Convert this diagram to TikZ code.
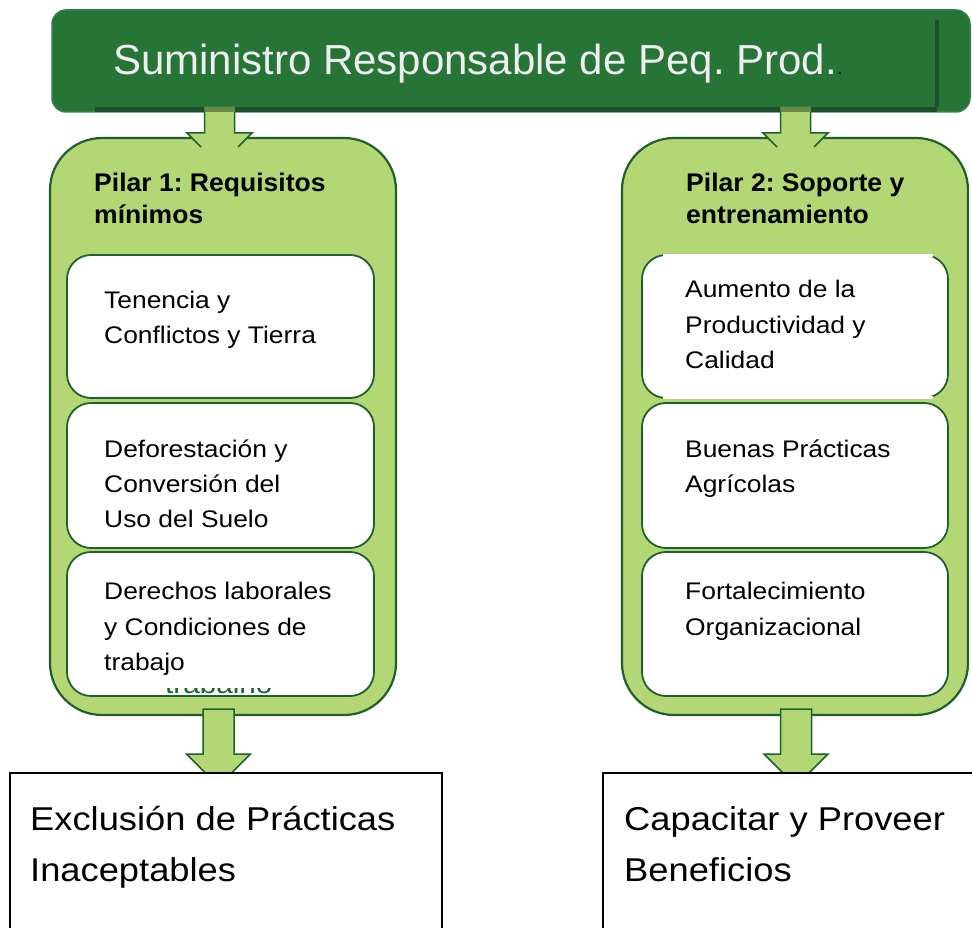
\documentclass[tikz,border=0pt]{standalone}
\usepackage{fontspec}
\setmainfont{Liberation Sans}
\newfontfamily\widefont{Liberation Sans}[FakeStretch=1.1]
\newfontfamily\headfont{Liberation Sans Bold}[FakeStretch=1.04]
\usetikzlibrary{calc}
\definecolor{bannergreen}{HTML}{267537}
\definecolor{bannershadow}{HTML}{1B5128}
\definecolor{bannerline}{HTML}{2E8444}
\definecolor{pillarfill}{HTML}{B3D775}
\definecolor{darkline}{HTML}{1E612C}
\definecolor{olive}{HTML}{6A8A4B}
\definecolor{titletext}{HTML}{EEEEEE}
\begin{document}
\frenchspacing
\begin{tikzpicture}[x=1pt,y=-1pt,
  banner/.style={draw=bannerline, line width=1.5pt, fill=bannergreen, rounded corners=14pt},
  pillar/.style={draw=darkline, line width=2.2pt, fill=pillarfill, rounded corners=52pt},
  item/.style={draw=darkline, line width=1.8pt, fill=white, rounded corners=24pt},
  outbox/.style={draw=black, line width=1.5pt, fill=white},
  blockarrow/.style={fill=pillarfill},
  arrowline/.style={draw=darkline, line width=1.5pt, line join=miter},
  headtext/.style={anchor=base west, inner sep=0pt, font=\headfont\fontsize{25.5}{30}\selectfont},
  itemtext/.style={anchor=base west, inner sep=0pt, font=\widefont\fontsize{24}{30}\selectfont},
  outtext/.style={anchor=base west, inner sep=0pt, font=\widefont\fontsize{33}{40}\selectfont},
  box/.style={anchor=north west, inner sep=0pt, outer sep=0pt}
]
\useasboundingbox (0,0) rectangle (972,928);
\clip (0,0) rectangle (972,928);
\fill[white] (0,0) rectangle (972,928);

% banner
\node[banner, box, minimum width=918pt, minimum height=102pt] (ban) at (52,10) {};
\fill[bannershadow] (95,107) rectangle (937,112);
\fill[bannershadow] (935,20) rectangle (938.5,107);
\node[anchor=base west, inner sep=0pt, text=titletext, font=\fontsize{42}{50}\selectfont] (bantext) at (113,75)
  {Suministro Responsable de Peq. Prod.{\color{black}\fontsize{20}{20}\selectfont.}};

% pillars
\node[pillar, box, minimum width=346pt, minimum height=577pt] (p1) at (50,138) {};
\node[pillar, box, minimum width=346pt, minimum height=577pt] (p2) at (622,138) {};

% top arrows (banner -> pillars)
\foreach \n/\cx in {a/219.5, b/795.5}{
  \coordinate (top\n) at (\cx,112);
  \fill[blockarrow] ($(top\n)+(-15,-5)$) -- ($(top\n)+(15,-5)$) -- ($(top\n)+(15,21)$) -- ($(top\n)+(32.5,21)$)
     -- ($(top\n)+(0,53.5)$) -- ($(top\n)+(-32.5,21)$) -- ($(top\n)+(-15,21)$) -- cycle;
  \fill[olive] ($(top\n)+(-15,-5)$) rectangle ($(top\n)+(15,0)$);
  \draw[arrowline] ($(top\n)+(-15,0)$) -- ($(top\n)+(-15,21)$) -- ($(top\n)+(-32.5,21)$) -- ($(top\n)+(-18.5,35)$);
  \draw[arrowline] ($(top\n)+(15,0)$) -- ($(top\n)+(15,21)$) -- ($(top\n)+(32.5,21)$) -- ($(top\n)+(18.5,35)$);
}

% pillar headings
\node[headtext] (h1a) at (94,192) {Pilar 1: Requisitos};
\node[headtext] (h1b) at (94,224) {mínimos};
\node[headtext] (h2a) at (686,192) {Pilar 2: Soporte y};
\node[headtext] (h2b) at (686,224) {entrenamiento};

% items pillar 1
\node[item, box, minimum width=307pt, minimum height=143pt] (i11) at (67,255) {};
\node[item, box, minimum width=307pt, minimum height=145pt] (i12) at (67,403) {};
\node[item, box, minimum width=307pt, minimum height=144pt] (i13) at (67,552) {};
% items pillar 2
\node[item, box, minimum width=306pt, minimum height=143pt] (i21) at (642,255) {};
\fill[white] (663,253.8) rectangle (933,256.8);
\fill[white] (663,396.2) rectangle (933,399.2);
\node[item, box, minimum width=306pt, minimum height=145pt] (i22) at (642,403) {};
\node[item, box, minimum width=306pt, minimum height=144pt] (i23) at (642,552) {};

% item texts
\node[itemtext] (t11a) at (104,308) {Tenencia y};
\node[itemtext] (t11b) at (104,343) {Conflictos y Tierra};
\node[itemtext] (t12a) at (104,457) {Deforestación y};
\node[itemtext] (t12b) at (104,492) {Conversión del};
\node[itemtext] (t12c) at (104,527) {Uso del Suelo};
\node[itemtext] (t13a) at (104,599) {Derechos laborales};
\node[itemtext] (t13b) at (104,635) {y Condiciones de};
\node[itemtext] (t13c) at (104,670) {trabajo};
\begin{scope}
  \clip (150,688.5) rectangle (300,694.5);
  \node[anchor=base west, inner sep=0pt, text=darkline, font=\widefont\fontsize{27}{30}\selectfont] (ghost) at (165,693) {trabalho};
\end{scope}

\node[itemtext] (t21a) at (685,298) {Aumento de la};
\node[itemtext] (t21b) at (685,333) {Productividad y};
\node[itemtext] (t21c) at (685,368) {Calidad};
\node[itemtext] (t22a) at (685,457) {Buenas Prácticas};
\node[itemtext] (t22b) at (685,492) {Agrícolas};
\node[itemtext] (t23a) at (685,599) {Fortalecimiento};
\node[itemtext] (t23b) at (685,635) {Organizacional};

% bottom arrows (pillars -> outcome boxes)
\foreach \n/\cx in {a/218.5, b/796}{
  \coordinate (bot\n) at (\cx,709);
  \filldraw[blockarrow, arrowline] ($(bot\n)+(-15.5,0)$) -- ($(bot\n)+(15.5,0)$) -- ($(bot\n)+(15.5,45)$) -- ($(bot\n)+(32,45)$)
     -- ($(bot\n)+(0,77)$) -- ($(bot\n)+(-32,45)$) -- ($(bot\n)+(-15.5,45)$) -- cycle;
}

% outcome boxes
\node[outbox, box, minimum width=432pt, minimum height=180pt] (o1) at (10,773) {};
\node[outbox, box, minimum width=400pt, minimum height=180pt] (o2) at (603,773) {};
\node[outtext] (o1a) at (30,830) {Exclusión de Prácticas};
\node[outtext] (o1b) at (30,881) {Inaceptables};
\node[outtext] (o2a) at (624,830) {Capacitar y Proveer};
\node[outtext] (o2b) at (624,881) {Beneficios};
\end{tikzpicture}
\end{document}
